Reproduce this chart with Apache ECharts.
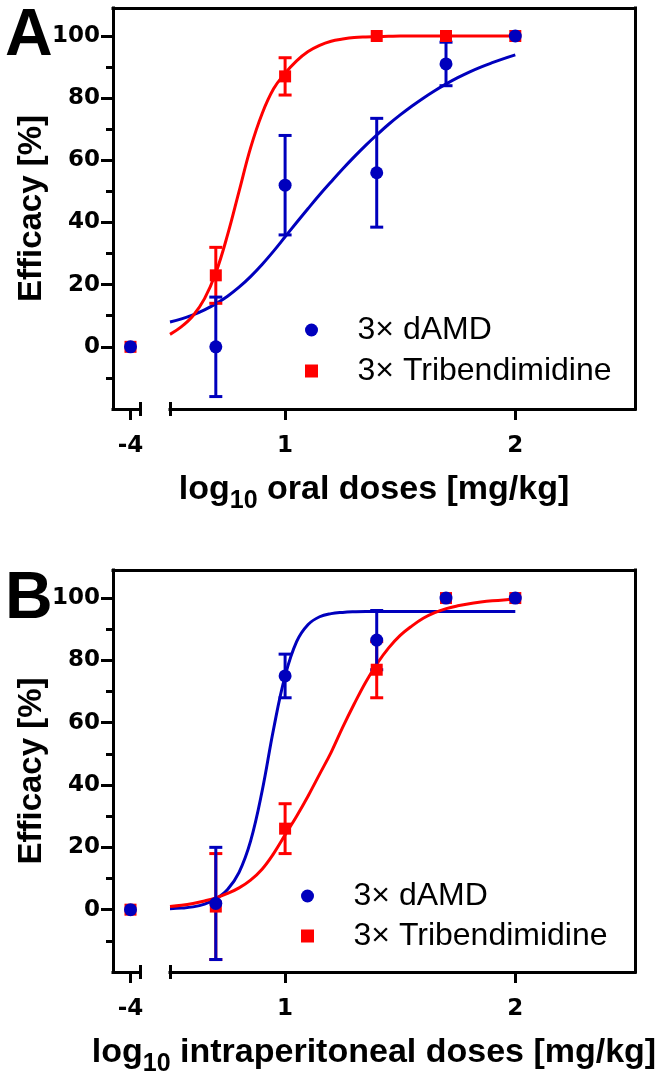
<!DOCTYPE html>
<html><head><meta charset="utf-8">
<script src="https://cdn.jsdelivr.net/npm/echarts@6/dist/echarts.min.js"></script>
<style>html,body{margin:0;padding:0;background:#fff}#c{width:656px;height:1079px}</style>
</head><body><div id="c"></div>
<script>
// ---------------- data ----------------
const seriesNames = ['3× dAMD', '3× Tribendimidine'];
const panelLabels = ['A', 'B'];
const xTitlesRoute = ['oral', 'intraperitoneal'];
const yTitle = 'Efficacy [%]';

const controlX = [-4];
const doseX = [0.699, 1.0, 1.398, 1.699, 2.0];

// Panel A (oral)
const oralDamdControl = [0];
const oralTriControl = [0];
const oralDamdMean = [0, 52, 56, 91, 100];
const oralDamdErr = [16, 16, 17.5, 7, 0];
const oralTriMean = [23, 87, 100, 100, 100];
const oralTriErr = [9, 6, 0, 0, 0];

// Panel B (intraperitoneal)
const ipDamdControl = [0];
const ipTriControl = [0];
const ipDamdMean = [2, 75, 86.5, 100, 100];
const ipDamdErr = [18, 7, 9.5, 0, 0];
const ipTriMean = [1, 26, 77, 100, 100];
const ipTriErr = [17, 8, 9, 0, 0];

// fitted curves
const fitX = [0.5,0.55,0.6,0.65,0.7,0.75,0.8,0.85,0.9,0.95,1.0,1.05,1.1,1.15,1.2,1.25,1.3,1.35,1.4,1.45,1.5,1.55,1.6,1.65,1.7,1.75,1.8,1.85,1.9,1.95,2.0];
const oralDamdFit = [8,9,10.3,11.9,13.9,16.3,19.2,22.6,26.5,30.8,35.4,40,44.5,48.9,53.1,57.2,61.1,64.8,68.3,71.6,74.6,77.4,80,82.4,84.6,86.6,88.4,90,91.4,92.7,93.9];
const oralTriFit = [4,6.5,10,15.5,24,36,50,64,75,83,88,92,95,97,98.3,99,99.5,99.7,99.8,99.9,100,100,100,100,100,100,100,100,100,100,100];
const ipDamdFit = [0.3,0.5,0.9,1.8,3.5,6.5,12,22,38,58,75,86,91.5,94,95,95.4,95.6,95.7,95.7,95.7,95.7,95.7,95.7,95.7,95.7,95.7,95.7,95.7,95.7,95.7,95.7];
const ipTriFit = [1,1.4,2,2.8,3.8,5.2,7,9.5,13,18,24,30,36.5,43.5,50.5,58.5,66,73,79,84,88,91,93.5,95.3,96.6,97.5,98.2,98.7,99.1,99.4,99.6];

// axes
const yRange = [-20, 109];
const yMajorTicks = [0, 20, 40, 60, 80, 100];
const yMinorTicks = [-10, 10, 30, 50, 70, 90];
const xLeftRange = [-4.175, -3.905];
const xLeftTicks = [-4];
const xRightRange = [0.5, 2.52];
const xRightTicks = [1, 2];

// ---------------- chart ----------------
const BLUE = '#0000bd', RED = '#ff0000';
const TITLE_FONT = 'Liberation Sans';
const TICK_FONT = 'DejaVu Sans';
const SQUARE_ICON = 'path://M0,0L10,0L10,10L0,10Z';
const axisLineStyle = {color: '#000', width: 3, cap: 'square'};
const tickLabel = {fontFamily: TICK_FONT, fontWeight: 'bold', fontSize: 23, color: '#000'};

function zip(xs, ys) { return xs.map((x, i) => [x, ys[i]]); }
function errData(xs, mean, err) {
  const out = [];
  xs.forEach((x, i) => { if (err[i] > 0) out.push([x, mean[i] - err[i], mean[i] + err[i]]); });
  return out;
}
function renderErr(params, api) {
  const x = api.value(0);
  const p1 = api.coord([x, api.value(2)]);
  const p2 = api.coord([x, api.value(1)]);
  const hw = 6.5;
  const style = {stroke: api.visual('color'), lineWidth: 3, fill: null};
  return {type: 'group', children: [
    {type: 'line', shape: {x1: p1[0], y1: p1[1], x2: p2[0], y2: p2[1]}, style},
    {type: 'line', shape: {x1: p1[0] - hw, y1: p1[1], x2: p1[0] + hw, y2: p1[1]}, style},
    {type: 'line', shape: {x1: p2[0] - hw, y1: p2[1], x2: p2[0] + hw, y2: p2[1]}, style}
  ]};
}

const option = {animation: false, backgroundColor: '#fff', grid: [], xAxis: [], yAxis: [], series: [], legend: [], title: []};
const noAxis = {axisLine: {show: false, onZero: false}, axisTick: {show: false}, axisLabel: {show: false}, splitLine: {show: false}};

function addPanel(cfg) {
  const g = option.grid.length, xi = option.xAxis.length, yi = option.yAxis.length;
  const top = cfg.top, h = cfg.height;
  option.grid.push({left: 113, top: top, width: 522, height: h, outerBoundsMode: 'none'});
  option.grid.push({left: 113, top: top, width: 27, height: h, outerBoundsMode: 'none'});
  option.grid.push({left: 170, top: top, width: 465, height: h, outerBoundsMode: 'none'});

  const capTick = (val, inside) => Object.assign({}, noAxis, {
    axisTick: {show: true, inside: inside, customValues: [val], length: 7, lineStyle: {color: '#000', width: 3}}});

  // x axes
  option.xAxis.push(Object.assign({}, noAxis, {gridIndex: g, type: 'value', position: 'top', min: 0, max: 1,
    axisLine: {show: true, onZero: false, lineStyle: axisLineStyle}}));
  option.xAxis.push(Object.assign({}, noAxis, {gridIndex: g, type: 'value', position: 'bottom', min: 0, max: 1,
    name: '{m|log}{s|10}{m| ' + cfg.route + ' doses [mg/kg]}', nameLocation: 'middle', nameGap: 57,
    nameTextStyle: {fontFamily: TITLE_FONT, fontWeight: 'bold', fontSize: 34, color: '#000',
      rich: {m: {fontFamily: TITLE_FONT, fontWeight: 'bold', fontSize: 34, lineHeight: 48, color: '#000'},
             s: {fontFamily: TITLE_FONT, fontWeight: 'bold', fontSize: 25, lineHeight: 25, verticalAlign: 'bottom', color: '#000'}}}}));
  option.xAxis.push({gridIndex: g + 1, type: 'value', position: 'bottom', min: xLeftRange[0], max: xLeftRange[1],
    axisLine: {show: true, onZero: false, lineStyle: axisLineStyle},
    axisTick: {show: true, customValues: xLeftTicks, length: 11, lineStyle: {color: '#000', width: 3}},
    axisLabel: Object.assign({show: true, customValues: xLeftTicks, margin: 26}, tickLabel), splitLine: {show: false}});
  option.xAxis.push(Object.assign({gridIndex: g + 1, type: 'value', position: 'bottom', min: xLeftRange[0], max: xLeftRange[1]}, capTick(xLeftRange[1], true)));
  option.xAxis.push(Object.assign({gridIndex: g + 1, type: 'value', position: 'bottom', min: xLeftRange[0], max: xLeftRange[1]}, capTick(xLeftRange[1], false)));
  option.xAxis.push({gridIndex: g + 2, type: 'value', position: 'bottom', min: xRightRange[0], max: xRightRange[1],
    axisLine: {show: true, onZero: false, lineStyle: axisLineStyle},
    axisTick: {show: true, customValues: xRightTicks, length: 11, lineStyle: {color: '#000', width: 3}},
    axisLabel: Object.assign({show: true, customValues: xRightTicks, margin: 26}, tickLabel), splitLine: {show: false}});
  option.xAxis.push(Object.assign({gridIndex: g + 2, type: 'value', position: 'bottom', min: xRightRange[0], max: xRightRange[1]}, capTick(xRightRange[0], true)));
  option.xAxis.push(Object.assign({gridIndex: g + 2, type: 'value', position: 'bottom', min: xRightRange[0], max: xRightRange[1]}, capTick(xRightRange[0], false)));

  // y axes
  option.yAxis.push(Object.assign({}, noAxis, {gridIndex: g, type: 'value', position: 'right', min: 0, max: 1,
    axisLine: {show: true, onZero: false, lineStyle: axisLineStyle}}));
  option.yAxis.push({gridIndex: g + 1, type: 'value', position: 'left', min: yRange[0], max: yRange[1],
    axisLine: {show: true, onZero: false, lineStyle: axisLineStyle},
    axisTick: {show: true, customValues: yMajorTicks, length: 12, lineStyle: {color: '#000', width: 3}},
    axisLabel: Object.assign({show: true, customValues: yMajorTicks, margin: 13}, tickLabel), splitLine: {show: false},
    name: yTitle, nameLocation: 'middle', nameGap: 57,
    nameTextStyle: {fontFamily: TITLE_FONT, fontWeight: 'bold', fontSize: 33, color: '#000'}});
  option.yAxis.push(Object.assign({}, noAxis, {gridIndex: g + 1, type: 'value', position: 'left', min: yRange[0], max: yRange[1],
    axisTick: {show: true, customValues: yMinorTicks, length: 7, lineStyle: {color: '#000', width: 3}}}));
  option.yAxis.push(Object.assign({}, noAxis, {gridIndex: g + 2, type: 'value', min: yRange[0], max: yRange[1], show: false}));

  const xL = xi + 2, yL = yi + 1, xR = xi + 5, yR = yi + 3;
  option.series.push(
    {type: 'line', name: 'dAMD fit', xAxisIndex: xR, yAxisIndex: yR, data: zip(fitX, cfg.damdFit), showSymbol: false,
     smooth: 0.4, lineStyle: {color: BLUE, width: 3}, itemStyle: {color: BLUE}, z: 2, silent: true},
    {type: 'line', name: 'Tribendimidine fit', xAxisIndex: xR, yAxisIndex: yR, data: zip(fitX, cfg.triFit), showSymbol: false,
     smooth: 0.4, lineStyle: {color: RED, width: 3}, itemStyle: {color: RED}, z: 2, silent: true},
    {type: 'custom', name: 'Tribendimidine err', xAxisIndex: xR, yAxisIndex: yR, renderItem: renderErr,
     data: errData(doseX, cfg.triMean, cfg.triErr), itemStyle: {color: RED}, z: 3, clip: false, silent: true},
    {type: 'custom', name: 'dAMD err', xAxisIndex: xR, yAxisIndex: yR, renderItem: renderErr,
     data: errData(doseX, cfg.damdMean, cfg.damdErr), itemStyle: {color: BLUE}, z: 3, clip: false, silent: true},
    {type: 'scatter', name: seriesNames[1], xAxisIndex: xL, yAxisIndex: yL, data: zip(controlX, cfg.triControl),
     symbol: 'rect', symbolSize: 12, itemStyle: {color: RED, opacity: 1}, z: 4},
    {type: 'scatter', name: seriesNames[0], xAxisIndex: xL, yAxisIndex: yL, data: zip(controlX, cfg.damdControl),
     symbol: 'circle', symbolSize: 13, itemStyle: {color: BLUE, opacity: 1}, z: 5},
    {type: 'scatter', name: seriesNames[1], xAxisIndex: xR, yAxisIndex: yR, data: zip(doseX, cfg.triMean),
     symbol: 'rect', symbolSize: 12, itemStyle: {color: RED, opacity: 1}, z: 4},
    {type: 'scatter', name: seriesNames[0], xAxisIndex: xR, yAxisIndex: yR, data: zip(doseX, cfg.damdMean),
     symbol: 'circle', symbolSize: 13, itemStyle: {color: BLUE, opacity: 1}, z: 5}
  );

  option.legend.push({data: [{name: seriesNames[0], icon: 'circle'}, {name: seriesNames[1], icon: SQUARE_ICON}],
    orient: 'vertical', left: cfg.legendLeft, top: cfg.legendTop, symbolKeepAspect: true,
    padding: 0, itemWidth: 82, itemHeight: 13, itemGap: cfg.legendGap, selectedMode: false,
    textStyle: {fontFamily: TITLE_FONT, fontSize: 32, lineHeight: 32, color: '#000'}});

  option.title.push({text: cfg.label, left: cfg.labelLeft, top: cfg.labelTop, padding: 0,
    textStyle: {fontFamily: TITLE_FONT, fontWeight: 'bold', fontSize: 66, lineHeight: 66, color: '#000'}});
}

addPanel({top: 8, height: 401, route: xTitlesRoute[0], label: panelLabels[0], labelLeft: 5, labelTop: 4,
  legendLeft: 305, legendTop: 314, legendGap: 9,
  damdFit: oralDamdFit, triFit: oralTriFit, damdMean: oralDamdMean, damdErr: oralDamdErr, triMean: oralTriMean, triErr: oralTriErr,
  damdControl: oralDamdControl, triControl: oralTriControl});
addPanel({top: 570, height: 402, route: xTitlesRoute[1], label: panelLabels[1], labelLeft: 5, labelTop: 567,
  legendLeft: 301, legendTop: 880, legendGap: 8,
  damdFit: ipDamdFit, triFit: ipTriFit, damdMean: ipDamdMean, damdErr: ipDamdErr, triMean: ipTriMean, triErr: ipTriErr,
  damdControl: ipDamdControl, triControl: ipTriControl});

const chart = echarts.init(document.getElementById('c'), null, {renderer: 'canvas'});
chart.setOption(option);
</script></body></html>
